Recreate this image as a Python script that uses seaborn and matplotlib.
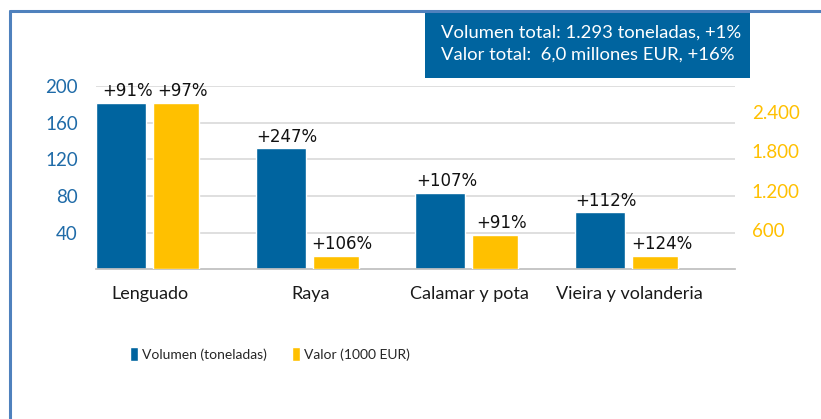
import numpy as np
import pandas as pd
import matplotlib
matplotlib.use("Agg")
import matplotlib.pyplot as plt
from matplotlib.patches import Rectangle
from matplotlib.lines import Line2D
from matplotlib.transforms import ScaledTranslation
import seaborn as sns

# data
especies = ["Lenguado", "Raya", "Calamar y pota", "Vieira y volanderia"]
volumen = [181.5, 132, 83, 62]          # toneladas
valor = [2540, 203, 524, 203]           # 1000 EUR
var_volumen = ["+91%", "+247%", "+107%", "+112%"]
var_valor = ["+97%", "+106%", "+91%", "+124%"]
series = ["Volumen (toneladas)", "Valor (1000 EUR)"]
ticks_izq = [40, 80, 120, 160, 200]
ticks_der = [600, 1200, 1800, 2400]
ticks_der_txt = ["600", "1.200", "1.800", "2.400"]

AZUL = "#00649F"
AMARILLO = "#FFC000"
BORDE = "#4F81BD"

df = pd.DataFrame({
    "especie": especies * 2,
    "serie": [series[0]] * 4 + [series[1]] * 4,
    "valor": volumen + valor,
})

sns.set_theme(style="white")
plt.rcParams["font.family"] = ["Lato", "DejaVu Sans"]

W, H = 821, 419
fig = plt.figure(figsize=(W / 100, H / 100), dpi=100)
ax = fig.add_axes([96 / W, 1 - 269.3 / H, (735 - 96) / W, (269.3 - 86) / H])
ax2 = ax.twinx()

pal = {series[0]: AZUL, series[1]: AMARILLO}
sns.barplot(data=df[df.serie == series[0]], x="especie", y="valor", hue="serie",
            hue_order=series, palette=pal, order=especies, width=0.688,
            gap=0.09, dodge=True, ax=ax, legend=False, saturation=1, errorbar=None)
sns.barplot(data=df[df.serie == series[1]], x="especie", y="valor", hue="serie",
            hue_order=series, palette=pal, order=especies, width=0.688,
            gap=0.16, dodge=True, ax=ax2, legend=False, saturation=1, errorbar=None)

ax.set_ylim(0, 200)
ax2.set_ylim(0, 2800)
ax.set_xlim(-0.328, 3.672)
ax.set_yticks(ticks_izq)
ax2.set_yticks(ticks_der, ticks_der_txt)
ax.yaxis.grid(True, color="#D9D9D9", lw=1.2)
ax.set_axisbelow(True)
ax2.grid(False)
for a in (ax, ax2):
    for s in ("top", "left", "right"):
        a.spines[s].set_visible(False)
    a.spines["bottom"].set_color("#BFBFBF")
    a.set_xlabel("")
    a.set_ylabel("")
ax2.spines["bottom"].set_visible(False)

ax.tick_params(axis="y", length=0, pad=13, labelsize=13.5, labelcolor="#1F6BA8")
ax2.tick_params(axis="y", length=0, pad=12, labelsize=13.5, labelcolor=AMARILLO)
ax.tick_params(axis="x", length=0, pad=12, labelsize=13, labelcolor="#1A1A1A")
desplaza = ScaledTranslation(2 / 100, 0, fig.dpi_scale_trans)
for t in ax.get_xticklabels():
    t.set_transform(t.get_transform() + desplaza)

etiquetas = []
for c in ax.containers:
    if len(c) == 4:
        etiquetas += ax.bar_label(c, labels=var_volumen, padding=2, fontsize=12,
                                  family="DejaVu Sans", color="#111111")
for c in ax2.containers:
    if len(c) == 4:
        etiquetas += ax2.bar_label(c, labels=var_valor, padding=2, fontsize=12,
                                   family="DejaVu Sans", color="#111111")
for t in etiquetas:
    t.xyann = (4.5, 2)

# legend
h = [c for c in ax.containers if len(c) == 4][:1] + [c for c in ax2.containers if len(c) == 4][:1]
fig.legend(h, series, loc="center", bbox_to_anchor=(270 / W, 1 - 354 / H), ncol=2,
           frameon=False, handlelength=0.55, handleheight=1.1,
           handletextpad=0.3, columnspacing=1.8, fontsize=10)

# border lines
fig.add_artist(Line2D([10 / W, 1], [1 - 11 / H] * 2, color=BORDE, lw=2.2,
                      transform=fig.transFigure))
fig.add_artist(Line2D([10 / W] * 2, [0, 1 - 11 / H], color=BORDE, lw=2.2,
                      transform=fig.transFigure))

# summary box
fig.add_artist(Rectangle((425 / W, 1 - 78 / H), (750 - 425) / W, (78 - 12) / H,
                         transform=fig.transFigure, color=AZUL, lw=0))
fig.text(441 / W, 1 - 33 / H, "Volumen total: 1.293 toneladas, +1%", color="white",
         fontsize=13.3, va="center", ha="left")
fig.text(441 / W, 1 - 55 / H, "Valor total:  6,0 millones EUR, +16%", color="white",
         fontsize=13.3, va="center", ha="left")

fig.savefig("out.png", dpi=100)
